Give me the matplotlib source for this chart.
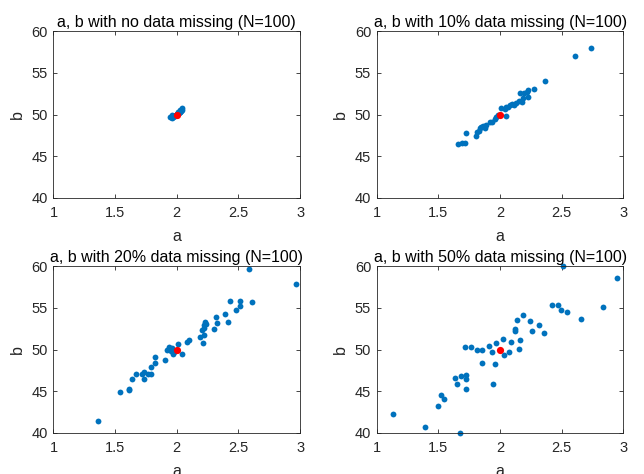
import matplotlib.pyplot as plt

plt.rcParams["font.family"] = ["Liberation Sans", "DejaVu Sans"]

# panel 1: no data missing
a_full = [1.942, 1.950, 1.958, 1.965, 1.972, 1.978, 1.985, 1.991, 1.998, 2.004,
          2.011, 2.017, 2.024, 2.030, 2.037, 2.044, 1.962, 2.008, 2.027, 2.040]
b_full = [49.65, 49.72, 49.60, 49.80, 49.75, 49.88, 49.85, 49.95, 50.02, 50.08,
          50.15, 50.22, 50.28, 50.35, 50.48, 50.60, 49.90, 50.25, 50.55, 50.75]

# panel 2: 10% missing
a_10 = [2.735, 2.606, 2.366, 2.279, 2.225, 2.217, 2.198, 2.163, 2.228, 2.185,
        2.174, 2.126, 2.099, 2.077, 2.063, 2.010, 2.036, 2.045, 1.969, 1.955,
        1.937, 1.915, 1.883, 1.861, 1.848, 1.874, 1.834, 1.828, 1.815, 1.802,
        1.726, 1.713, 1.691, 1.659, 2.050, 2.110, 1.985, 2.150]
b_10 = [57.93, 57.04, 54.01, 53.05, 52.93, 52.66, 52.54, 52.57, 52.13, 51.94,
        51.53, 51.34, 51.26, 51.10, 50.86, 50.81, 50.62, 49.82, 49.66, 49.43,
        49.14, 49.07, 48.74, 48.66, 48.54, 48.42, 48.35, 48.06, 47.94, 47.43,
        47.75, 46.62, 46.55, 46.50, 50.95, 51.20, 49.90, 51.65]

# panel 3: 20% missing
a_20 = [2.584, 2.970, 2.430, 2.516, 2.613, 2.516, 2.483, 2.394, 2.321, 2.418,
        2.329, 2.232, 2.240, 2.224, 2.219, 2.207, 2.302, 2.221, 2.186, 2.215,
        2.099, 2.086, 2.013, 1.937, 1.923, 1.967, 2.045, 1.951, 1.907, 1.824,
        1.821, 1.789, 1.732, 1.764, 1.794, 1.715, 1.672, 1.737, 1.640, 1.615,
        1.610, 1.540, 1.364, 1.960, 1.980]
b_20 = [59.67, 57.92, 55.78, 55.87, 55.75, 55.18, 54.78, 54.30, 53.89, 53.25,
        53.13, 53.29, 53.10, 52.89, 52.53, 52.37, 52.49, 51.72, 51.48, 50.84,
        51.20, 50.88, 50.72, 50.33, 50.00, 49.48, 49.48, 49.80, 48.76, 49.07,
        48.35, 47.87, 47.31, 47.11, 47.07, 47.11, 47.07, 46.47, 46.47, 45.22,
        45.14, 44.94, 41.48, 50.20, 49.75]

# panel 4: 50% missing
a_50 = [2.514, 2.946, 2.423, 2.468, 2.498, 2.544, 2.832, 2.657, 2.185, 2.134,
        2.245, 2.317, 2.120, 2.120, 2.258, 2.355, 2.161, 2.088, 2.023, 1.969,
        1.907, 2.150, 2.069, 2.028, 1.934, 1.715, 1.764, 1.810, 1.853, 1.856,
        1.955, 1.939, 1.634, 1.680, 1.721, 1.723, 1.653, 1.723, 1.524, 1.542,
        1.497, 1.132, 1.394, 1.675]
b_50 = [59.96, 58.59, 55.30, 55.34, 54.74, 54.50, 55.10, 53.70, 54.18, 53.49,
        53.37, 52.93, 52.49, 52.20, 52.17, 51.93, 51.20, 50.92, 51.29, 50.76,
        50.40, 50.08, 49.76, 49.40, 49.68, 50.33, 50.28, 49.96, 49.92, 48.40,
        48.27, 45.82, 46.59, 46.78, 46.99, 46.47, 45.90, 45.27, 44.61, 44.06,
        43.29, 42.25, 40.72, 39.96]

true_a = 2.0
true_b = 50.0

panels = [
    ("a, b with no data missing (N=100)", a_full, b_full),
    ("a, b with 10% data missing (N=100)", a_10, b_10),
    ("a, b with 20% data missing (N=100)", a_20, b_20),
    ("a, b with 50% data missing (N=100)", a_50, b_50),
]

fig = plt.figure(figsize=(6.44, 4.74), dpi=100)
lefts = [0.083, 0.585]
bottoms = [0.5823, 0.0865]
w, h = 0.383, 0.352

for i, (title, a_vals, b_vals) in enumerate(panels):
    ax = fig.add_axes([lefts[i % 2], bottoms[i // 2], w, h])
    ax.plot(a_vals, b_vals, "o", color="#0072BD", markersize=4.2,
            markeredgewidth=0, clip_on=False)
    ax.plot([true_a], [true_b], "o", color="#FF0000", markersize=5.2,
            markeredgewidth=0, clip_on=False)
    ax.set_xlim(1, 3)
    ax.set_ylim(40, 60)
    ax.set_xticks([1, 1.5, 2, 2.5, 3])
    ax.set_xticklabels(["1", "1.5", "2", "2.5", "3"])
    ax.set_yticks([40, 45, 50, 55, 60])
    ax.tick_params(direction="in", top=True, right=True, length=3,
                   width=0.6, color="#262626", labelsize=10.5, labelcolor="#262626")
    ax.tick_params(axis="x", pad=6)
    ax.tick_params(axis="y", pad=4)
    for sp in ax.spines.values():
        sp.set_color("#262626")
        sp.set_linewidth(0.6)
    ax.set_title(title, fontsize=11.5, color="black", pad=3)
    ax.set_xlabel("a", fontsize=11.5, color="#262626", labelpad=6)
    ax.set_ylabel("b", fontsize=11.5, color="#262626", labelpad=5)

fig.savefig("out.png", dpi=100)
